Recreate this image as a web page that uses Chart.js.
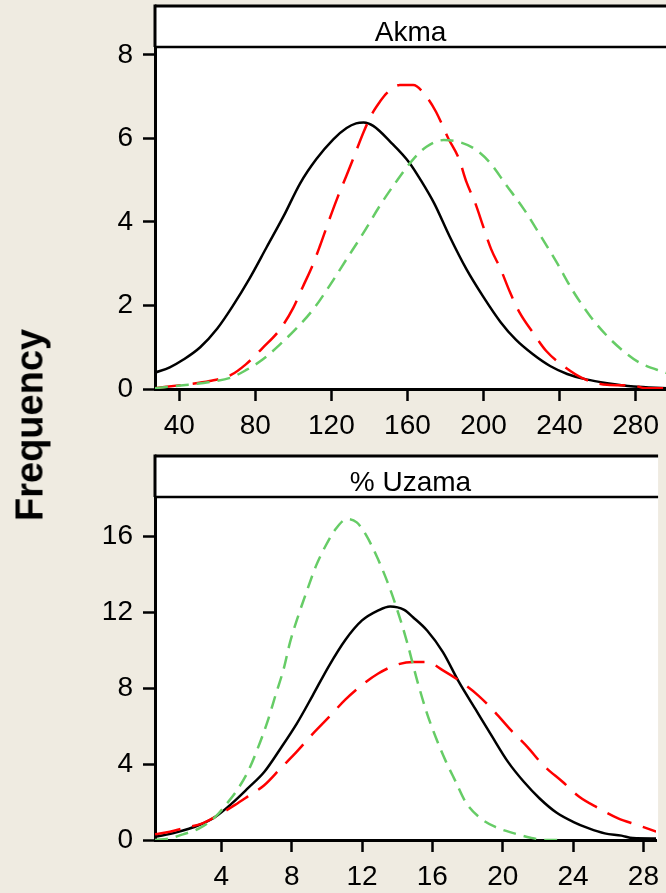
<!DOCTYPE html>
<html>
<head>
<meta charset="utf-8">
<script src="https://cdn.jsdelivr.net/npm/chart.js@4/dist/chart.umd.min.js"></script>
<style>
html,body{margin:0;padding:0;background:#EFEBE1;width:666px;height:893px;overflow:hidden;position:relative;}
canvas{position:absolute;left:0;}
#c1{top:0;}
#c2{top:446px;}
#ylab{position:absolute;left:29.5px;top:425px;transform:translate(-50%,-50%) rotate(-90deg);font:bold 38px "Liberation Sans",Arial,sans-serif;color:#000;white-space:nowrap;}
</style>
</head>
<body>
<canvas id="c1" width="667" height="446" style="width:667px;height:446px"></canvas>
<canvas id="c2" width="667" height="447" style="width:667px;height:447px"></canvas>
<div id="ylab">Frequency</div>
<script>
// ---------- Panel 1: Akma ----------
const akmaTitle = "Akma";
const akmaXTicks = [40, 80, 120, 160, 200, 240, 280];
const akmaYTicks = [0, 2, 4, 6, 8];
const akmaBlackX = [27.2,35,42,51,60,68,77,86,95,103.5,112,121,128,133,137,142,151,161,167,174,182,191,200,209,217,226,235,244,254,265,279,296.3];
const akmaBlackY = [0.39,0.52,0.7,1.0,1.45,1.98,2.65,3.4,4.15,4.92,5.5,5.98,6.25,6.36,6.38,6.3,5.92,5.42,5.0,4.45,3.67,2.87,2.2,1.6,1.18,0.83,0.55,0.36,0.23,0.14,0.06,0.02];
const akmaRedX = [27.2,42,56,67,75,84,93,100,105,110,114,119,123,128,131.5,137,141,145.5,149,156,163,170,175,181.5,187,191,195.5,200,204,209,214,219,226,233,242,252,265,279,285,296.3];
const akmaRedY = [0.02,0.1,0.19,0.33,0.59,0.99,1.43,1.95,2.45,2.95,3.43,4.07,4.56,5.12,5.52,6.16,6.56,6.88,7.08,7.28,7.28,7.0,6.64,6.0,5.52,4.96,4.47,3.87,3.35,2.87,2.31,1.83,1.35,0.91,0.55,0.26,0.1,0.08,0.02,0.02];
const akmaGreenX = [27.2,42,56,67,75,84,93,102,110.5,119,128,137,145.5,154,163,170,179,186,195,203,212,221,230,238.5,247,256,265,273.5,282,296.3];
const akmaGreenY = [0.02,0.09,0.17,0.27,0.45,0.71,1.07,1.47,1.91,2.47,3.11,3.75,4.39,4.96,5.5,5.8,5.96,5.93,5.76,5.44,4.88,4.32,3.67,3.03,2.35,1.75,1.27,0.91,0.63,0.38];

// ---------- Panel 2: % Uzama ----------
const uzamaTitle = "% Uzama";
const uzamaXTicks = [4, 8, 12, 16, 20, 24, 28];
const uzamaYTicks = [0, 4, 8, 12, 16];
const uzamaBlackX = [0.23,1.45,2.74,3.67,4.6,5.5,6.45,7.35,8.3,9.2,10.1,11.05,12,12.9,13.6,14.4,14.9,15.7,16.6,17.5,18.45,19.35,20.3,21.2,22.1,23.05,24,24.9,25.8,26.75,27.4,28.72];
const uzamaBlackY = [0.17,0.4,0.79,1.23,1.93,2.72,3.6,4.8,6.15,7.63,9.15,10.55,11.58,12.1,12.32,12.14,11.75,11.05,9.91,8.35,6.9,5.53,4.12,3.07,2.19,1.45,0.96,0.61,0.35,0.23,0.1,0.08];
const uzamaRedX = [0.23,1.08,1.82,2.93,3.67,4.78,5.51,6.44,7.36,8.28,9.21,10.13,11.05,11.98,12.9,14.0,14.9,15.7,16.6,17.5,18.6,19.55,20.47,21.4,22.3,23.4,24.35,25.46,26.56,27.67,28.72];
const uzamaRedY = [0.3,0.44,0.61,0.88,1.23,1.85,2.3,2.89,3.77,4.65,5.61,6.49,7.4,8.16,8.77,9.25,9.39,9.39,8.95,8.42,7.63,6.75,5.79,4.91,3.95,3.07,2.28,1.67,1.14,0.79,0.44];
const uzamaGreenX = [0.23,1.08,1.82,2.74,3.67,4.4,4.96,5.51,6.07,6.62,7.08,7.55,7.91,8.38,8.84,9.39,9.94,10.5,11.15,11.7,12.25,12.9,13.45,13.92,14.56,15.11,15.67,16.22,16.78,17.33,17.88,18.63,19.55,20.66,21.58,22.5,23.4];
const uzamaGreenY = [0.0,0.09,0.3,0.61,1.23,2.02,2.72,3.6,4.83,6.23,7.63,9.04,10.44,11.84,13.07,14.47,15.53,16.4,16.93,16.75,16.05,14.83,13.6,12.37,10.44,8.5,6.75,5.35,4.12,3.07,2.02,1.23,0.7,0.35,0.12,0.0,0.0];

const FONT = '"Liberation Sans", Arial, sans-serif';

function pts(xs, ys) { return xs.map((x, i) => ({ x: x, y: ys[i] })); }

const stripPlugin = {
  id: 'strip',
  beforeDraw(chart, args, opts) {
    const a = chart.chartArea, ctx = chart.ctx;
    ctx.save();
    ctx.fillStyle = '#FFFFFF';
    ctx.fillRect(a.left, a.top - 41, a.right - a.left + 2, a.bottom - a.top + 41);
    ctx.restore();
  },
  afterDraw(chart, args, opts) {
    const a = chart.chartArea, ctx = chart.ctx;
    ctx.save();
    ctx.strokeStyle = '#000';
    ctx.lineWidth = 3;
    ctx.beginPath();
    ctx.moveTo(a.left, a.top - 41);
    ctx.lineTo(a.right + 2, a.top - 41);
    ctx.stroke();
    ctx.lineWidth = 2.5;
    ctx.beginPath();
    ctx.moveTo(a.left, a.top);
    ctx.lineTo(a.right + 2, a.top);
    ctx.stroke();
    ctx.lineWidth = 3;
    ctx.beginPath();
    ctx.moveTo(a.left, a.top - 42.5);
    ctx.lineTo(a.left, a.top);
    ctx.stroke();
    ctx.fillStyle = '#000';
    ctx.font = '28px ' + FONT;
    ctx.textAlign = 'center';
    ctx.textBaseline = 'alphabetic';
    ctx.fillText(opts.text, (a.left + 666) / 2, a.top - 6);
    ctx.restore();
  }
};

function makePanel(id, cfg) {
  return new Chart(document.getElementById(id), {
    type: 'line',
    data: {
      datasets: [
        { data: pts(cfg.bx, cfg.by), borderColor: '#000000', borderWidth: 2.5, order: 3 },
        { data: pts(cfg.rx, cfg.ry), borderColor: '#FF0000', borderWidth: 2.5, borderDash: [26, 12], order: 2 },
        { data: pts(cfg.gx, cfg.gy), borderColor: '#66CC66', borderWidth: 2.5, borderDash: [13, 8], order: 1 }
      ].map(d => Object.assign({ pointRadius: 0, fill: false, cubicInterpolationMode: 'monotone' }, d))
    },
    options: {
      responsive: false,
      devicePixelRatio: 1,
      animation: false,
      layout: { padding: { top: cfg.padTop, left: 0, right: 0, bottom: 0 } },
      plugins: { legend: { display: false }, tooltip: { enabled: false }, title: { display: false }, strip: { text: cfg.title } },
      scales: {
        x: {
          type: 'linear', min: cfg.xmin, max: cfg.xmax,
          afterBuildTicks: s => { s.ticks = cfg.xticks.map(v => ({ value: v })); },
          afterFit: s => { s.height = cfg.xh; },
          grid: { drawOnChartArea: false, drawTicks: true, tickLength: 12, tickColor: '#000', tickWidth: 2.5 },
          border: { display: true, color: '#000', width: 3 },
          ticks: { font: { size: 28, family: FONT }, color: '#000', padding: 8, maxRotation: 0, autoSkip: false, callback: v => String(v) }
        },
        y: {
          type: 'linear', min: 0, max: cfg.ymax,
          afterBuildTicks: s => { s.ticks = cfg.yticks.map(v => ({ value: v })); },
          afterFit: s => { s.width = 155; },
          grid: { drawOnChartArea: false, drawTicks: true, tickLength: 12, tickColor: '#000', tickWidth: 2.5 },
          border: { display: true, color: '#000', width: 3 },
          ticks: { font: { size: 28, family: FONT }, color: '#000', padding: 10, callback: v => String(v) }
        }
      }
    },
    plugins: [stripPlugin]
  });
}

makePanel('c1', {
  title: akmaTitle, bx: akmaBlackX, by: akmaBlackY, rx: akmaRedX, ry: akmaRedY, gx: akmaGreenX, gy: akmaGreenY,
  xticks: akmaXTicks, yticks: akmaYTicks, xmin: 27.23, xmax: 296.3, ymax: 8.19, padTop: 47, xh: 57
});
makePanel('c2', {
  title: uzamaTitle, bx: uzamaBlackX, by: uzamaBlackY, rx: uzamaRedX, ry: uzamaRedY, gx: uzamaGreenX, gy: uzamaGreenY,
  xticks: uzamaXTicks, yticks: uzamaYTicks, xmin: 0.23, xmax: 28.72, ymax: 18.09, padTop: 51, xh: 53
});
</script>
</body>
</html>
